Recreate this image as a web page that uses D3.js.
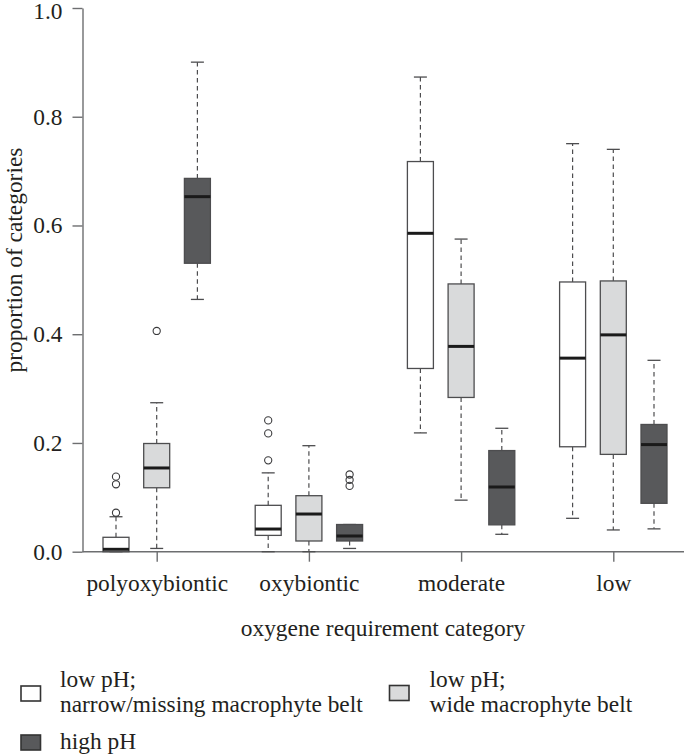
<!DOCTYPE html>
<html>
<head>
<meta charset="utf-8">
<script src="https://cdn.jsdelivr.net/npm/d3@7"></script>
<style>
  html, body { margin: 0; padding: 0; background: #fff; }
  svg { display: block; }
  text { font-family: "Liberation Serif", "Times New Roman", serif; fill: #231f20; }
</style>
</head>
<body>
<svg id="chart" width="685" height="754"></svg>
<script>
// ---------- data ----------
const categories = ["polyoxybiontic", "oxybiontic", "moderate", "low"];
const seriesKeys = ["narrow", "wide", "high"];
const seriesLabels = [
  ["low pH;", "narrow/missing macrophyte belt"],
  ["low pH;", "wide macrophyte belt"],
  ["high pH"]
];
const seriesFills = ["#ffffff", "#d9dadb", "#58595b"];
const yTickValues = [0, 0.2, 0.4, 0.6, 0.8, 1.0];

// five-number summaries: [lower whisker, Q1, median, Q3, upper whisker]
const narrowStats = [
  [0.000, 0.000, 0.0044, 0.0265, 0.0643],
  [0.000, 0.030, 0.0417, 0.0853, 0.145],
  [0.2185, 0.337, 0.5856, 0.7176, 0.873],
  [0.0614, 0.193, 0.356, 0.4961, 0.7505]
];
const wideStats = [
  [0.006, 0.1176, 0.154, 0.199, 0.274],
  [0.000, 0.0197, 0.0693, 0.103, 0.195],
  [0.0948, 0.2837, 0.3776, 0.4925, 0.575],
  [0.040, 0.179, 0.3988, 0.498, 0.740]
];
const highStats = [
  [0.464, 0.5305, 0.653, 0.6866, 0.9004],
  [0.006, 0.0197, 0.0289, 0.050, 0.050],
  [0.032, 0.0494, 0.119, 0.186, 0.227],
  [0.042, 0.089, 0.197, 0.234, 0.352]
];
const narrowOutliers = [[0.0717, 0.124, 0.138], [0.168, 0.2176, 0.2415], [], []];
const wideOutliers = [[0.406], [], [], []];
const highOutliers = [[], [0.121, 0.132, 0.142], [], []];

// ---------- build ----------
const statsBySeries = { narrow: narrowStats, wide: wideStats, high: highStats };
const outBySeries = { narrow: narrowOutliers, wide: wideOutliers, high: highOutliers };

const svg = d3.select("#chart");
const fontSize = 23.4;

const y = d3.scaleLinear().domain([0, 1]).range([551.7, 8]);
const x = d3.scalePoint().domain(categories).range([156.7, 613.3]);
const xs = d3.scalePoint().domain(seriesKeys).range([-40.7, 40.7]);
const fill = d3.scaleOrdinal().domain(seriesKeys).range(seriesFills);
const boxW = 26;

const axisColor = "#6d6e70";

// y axis
const yAxis = svg.append("g")
  .attr("transform", "translate(82.5,0)")
  .call(d3.axisLeft(y).tickValues(yTickValues).tickFormat(d3.format(".1f"))
    .tickSize(10).tickSizeOuter(0).tickPadding(10));
yAxis.select(".domain").attr("stroke", axisColor).attr("stroke-width", 1.4);
yAxis.selectAll(".tick line").attr("stroke", axisColor).attr("stroke-width", 1.4);
yAxis.selectAll(".tick text").attr("font-size", fontSize)
  .attr("font-family", "Liberation Serif").attr("fill", "#231f20")
  .attr("y", d => (d === 1 ? 2.5 : 0));

// x axis
const xAxis = svg.append("g")
  .attr("transform", `translate(0,${y(0)})`)
  .call(d3.axisBottom(x).tickSize(10).tickSizeOuter(0).tickPadding(13));
xAxis.select(".domain").remove();
xAxis.selectAll(".tick line").attr("stroke", axisColor).attr("stroke-width", 1.4);
xAxis.selectAll(".tick text").attr("font-size", fontSize)
  .attr("font-family", "Liberation Serif").attr("fill", "#231f20");
svg.append("line")
  .attr("x1", 82.5).attr("x2", 684)
  .attr("y1", y(0)).attr("y2", y(0))
  .attr("stroke", axisColor).attr("stroke-width", 1.4);

// boxes
const boxData = [];
seriesKeys.forEach(s => {
  categories.forEach((c, i) => {
    const st = statsBySeries[s][i];
    boxData.push({ s, c, lo: st[0], q1: st[1], med: st[2], q3: st[3], hi: st[4], out: outBySeries[s][i] });
  });
});

const g = svg.append("g");
const boxes = g.selectAll("g.box").data(boxData).join("g")
  .attr("class", "box")
  .attr("transform", d => `translate(${x(d.c) + xs(d.s)},0)`);

const whiskColor = "#4d4d4f";
// whiskers (dashed)
boxes.append("line")
  .attr("x1", 0).attr("x2", 0)
  .attr("y1", d => y(d.q3)).attr("y2", d => y(d.hi))
  .attr("stroke", whiskColor).attr("stroke-width", 1.2)
  .attr("stroke-dasharray", "4.5,3.5");
boxes.append("line")
  .attr("x1", 0).attr("x2", 0)
  .attr("y1", d => y(d.q1)).attr("y2", d => y(d.lo))
  .attr("stroke", whiskColor).attr("stroke-width", 1.2)
  .attr("stroke-dasharray", "4.5,3.5");
// caps
boxes.append("line")
  .attr("x1", -boxW / 4).attr("x2", boxW / 4)
  .attr("y1", d => y(d.hi)).attr("y2", d => y(d.hi))
  .attr("stroke", whiskColor).attr("stroke-width", 1.3);
boxes.append("line")
  .attr("x1", -boxW / 4).attr("x2", boxW / 4)
  .attr("y1", d => y(d.lo)).attr("y2", d => y(d.lo))
  .attr("stroke", whiskColor).attr("stroke-width", 1.3);
// box
boxes.append("rect")
  .attr("x", -boxW / 2).attr("width", boxW)
  .attr("y", d => y(d.q3)).attr("height", d => y(d.q1) - y(d.q3))
  .attr("fill", d => fill(d.s))
  .attr("stroke", "#4d4d4f").attr("stroke-width", 1.3);
// median
boxes.append("line")
  .attr("x1", -boxW / 2).attr("x2", boxW / 2)
  .attr("y1", d => y(d.med)).attr("y2", d => y(d.med))
  .attr("stroke", "#1a1a1a").attr("stroke-width", 3);
// outliers
boxes.selectAll("circle").data(d => d.out).join("circle")
  .attr("cx", 0).attr("cy", v => y(v)).attr("r", 3.6)
  .attr("fill", "none").attr("stroke", "#3a3a3c").attr("stroke-width", 1.1);

// axis titles
svg.append("text")
  .attr("x", 383).attr("y", 636)
  .attr("text-anchor", "middle").attr("font-size", fontSize)
  .text("oxygene requirement category");
svg.append("text")
  .attr("transform", "translate(22,260) rotate(-90)")
  .attr("text-anchor", "middle").attr("font-size", fontSize)
  .text("proportion of categories");

// legend
const legendPos = [
  { x: 21, y: 686, tx: 60, ty: 686.7 },
  { x: 389.5, y: 685.5, tx: 429.5, ty: 686.7 },
  { x: 21, y: 735, tx: 60, ty: 749.3 }
];
const leg = svg.append("g").selectAll("g").data(seriesKeys).join("g");
leg.append("rect")
  .attr("x", (d, i) => legendPos[i].x).attr("y", (d, i) => legendPos[i].y)
  .attr("width", 19.5).attr("height", 15)
  .attr("fill", d => fill(d)).attr("stroke", "#333").attr("stroke-width", 1.6);
leg.append("text")
  .attr("font-size", fontSize)
  .each(function (d, i) {
    const t = d3.select(this);
    seriesLabels[i].forEach((line, j) => {
      t.append("tspan").attr("x", legendPos[i].tx).attr("y", legendPos[i].ty + j * 25).text(line);
    });
  });
</script>
</body>
</html>
